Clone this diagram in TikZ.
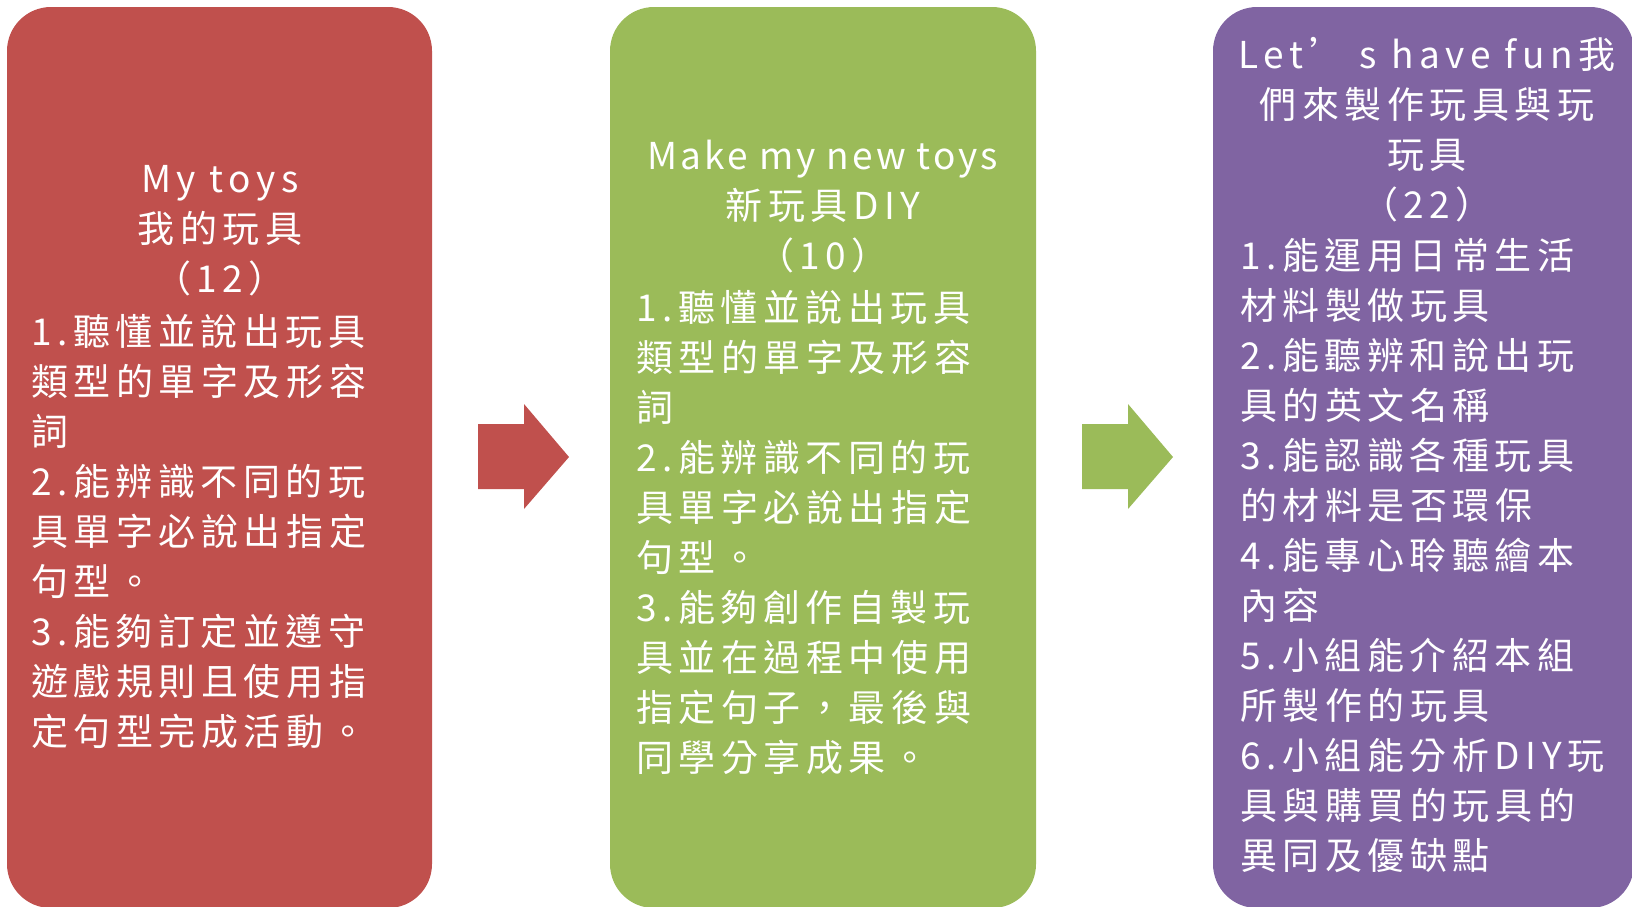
\documentclass[tikz,border=0pt]{standalone}
\usepackage{fontspec}
\setmainfont{Noto Sans CJK TC}[LetterSpace=15]
\newfontfamily\tightfont{Noto Sans CJK TC}[LetterSpace=8]
\definecolor{boxred}{HTML}{C0504D}
\definecolor{boxgreen}{HTML}{9BBB59}
\definecolor{boxpurple}{HTML}{8064A2}
\tikzset{
  panel/.style={rounded corners=44pt},
  txt/.style={text=white, inner sep=0pt, font=\fontsize{37}{50}\selectfont},
  head/.style={txt, align=center},
  body/.style={txt, align=left, anchor=north west}
}
\begin{document}
\begin{tikzpicture}[x=1pt,y=-1pt]
\useasboundingbox (0,0) rectangle (1632,906);
% panels
\fill[boxred, panel] (7,7) rectangle (432,908);
\fill[boxgreen, panel] (610,7) rectangle (1036,908);
\fill[boxpurple, panel] (1213,7) rectangle (1634,908);
% arrows
\fill[boxred] (478,424) -- (524,424) -- (524,404) -- (569,457) -- (524,509) -- (524,489) -- (478,489) -- cycle;
\fill[boxgreen] (1082,424) -- (1128,424) -- (1128,404) -- (1173,457) -- (1128,509) -- (1128,489) -- (1082,489) -- cycle;
% red texts
\node[head] (h1) at (220,231) {My toys\\我的玩具\\（12）};
\node[body] (b1) at (31,314) {1.聽懂並說出玩具\\類型的單字及形容\\詞\\2.能辨識不同的玩\\具單字必說出指定\\句型。\\3.能夠訂定並遵守\\遊戲規則且使用指\\定句型完成活動。};
% green texts
\node[head] (h2) at (823,207) {{\tightfont Make my new toys}\\新玩具DIY\\（10）};
\node[body] (b2) at (636,290) {1.聽懂並說出玩具\\類型的單字及形容\\詞\\2.能辨識不同的玩\\具單字必說出指定\\句型。\\3.能夠創作自製玩\\具並在過程中使用\\指定句子，最後與\\同學分享成果。};
% purple texts
\node[head] (h3) at (1427,130) {Let’ s have fun我\\們來製作玩具與玩\\玩具\\（22）};
\node[body] (b3) at (1240,238) {1.能運用日常生活\\材料製做玩具\\2.能聽辨和說出玩\\具的英文名稱\\3.能認識各種玩具\\的材料是否環保\\4.能專心聆聽繪本\\內容\\5.小組能介紹本組\\所製作的玩具\\6.小組能分析DIY玩\\具與購買的玩具的\\異同及優缺點};
\end{tikzpicture}
\end{document}
